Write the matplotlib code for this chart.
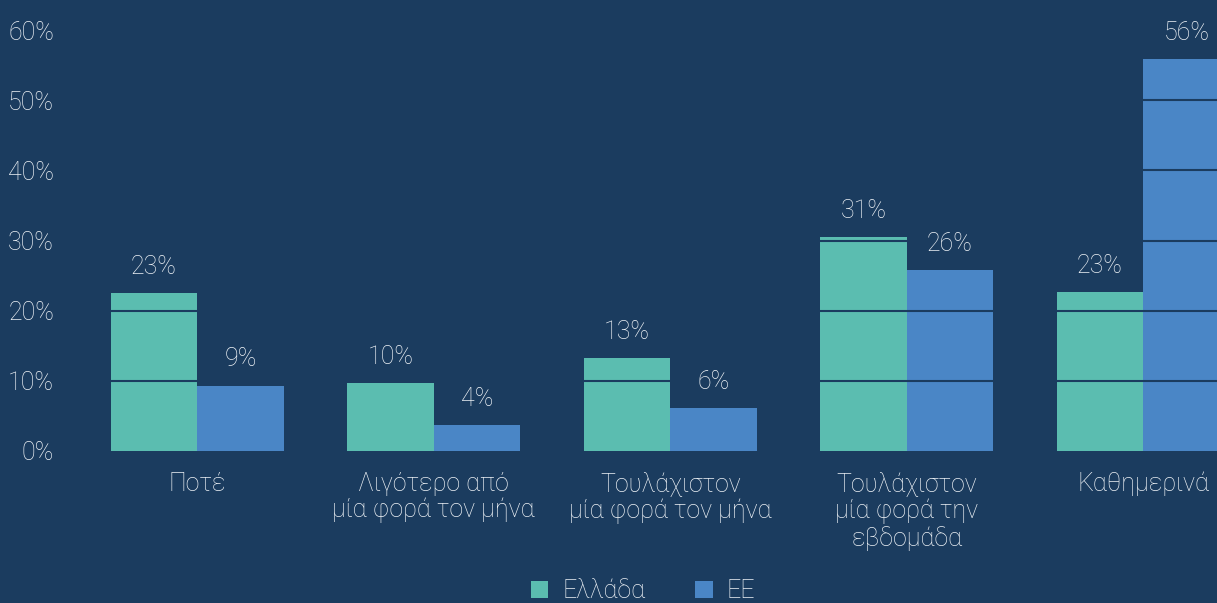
import matplotlib
matplotlib.use("Agg")
import matplotlib.pyplot as plt
import numpy as np

categories = ["Ποτέ", "Λιγότερο από\nμία φορά τον μήνα", "Τουλάχιστον\nμία φορά τον μήνα",
              "Τουλάχιστον\nμία φορά την\nεβδομάδα", "Καθημερινά"]
greece = [22.5, 9.7, 13.2, 30.5, 22.6]
eu = [9.3, 3.7, 6.1, 25.8, 55.8]
greece_labels = ["23%", "10%", "13%", "31%", "23%"]
eu_labels = ["9%", "4%", "6%", "26%", "56%"]
series_names = ["Ελλάδα", "ΕΕ"]
yticks = [0, 10, 20, 30, 40, 50, 60]

BG = "#1b3c5f"
TEAL = "#5bbdb0"
BLUE = "#4a86c6"
TXT = "#eef2f6"
FS = 18
FW = "light"

plt.rcParams['font.family'] = ['Roboto', 'DejaVu Sans']

W, H = 1217, 603
fig = plt.figure(figsize=(W/100, H/100), dpi=100, facecolor=BG)
ax = fig.add_axes([79/W, (H-451)/H, 1-79/W, (451-30)/H])
ax.set_facecolor(BG)

x = np.arange(len(categories))
bw = 0.366
b1 = ax.bar(x - bw/2, greece, bw, color=TEAL, label=series_names[0], zorder=2)
b2 = ax.bar(x + bw/2, eu, bw, color=BLUE, label=series_names[1], zorder=2)

for rects, labs in ((b1, greece_labels), (b2, eu_labels)):
    for r, lab in zip(rects, labs):
        ax.annotate(lab, (r.get_x() + r.get_width()/2, r.get_height()),
                    xytext=(0, 19), textcoords="offset points", ha="center", va="center",
                    color=TXT, fontsize=FS, fontweight=FW, zorder=6)

for v in yticks[1:-1]:
    ax.axhline(v, color=BG, lw=1.5, zorder=3)

ax.set_xlim(-0.5, 4.312)
ax.set_ylim(0, 60)
ax.set_yticks(yticks)
ax.set_yticklabels([f"{v}%" for v in yticks])
ax.set_xticks(x)
ax.set_xticklabels(categories, linespacing=1.1)
ax.tick_params(axis="both", length=0, colors=TXT, labelsize=FS)
ax.tick_params(axis="y", pad=18)
ax.tick_params(axis="x", pad=15)
for lab in ax.get_xticklabels() + ax.get_yticklabels():
    lab.set_fontweight(FW)
for s in ax.spines.values():
    s.set_visible(False)

leg = fig.legend(loc="center", bbox_to_anchor=(643/W, 1 - 591/H), ncol=2, frameon=False,
                 fontsize=FS, handlelength=0.7, handleheight=0.7, columnspacing=2.0,
                 handletextpad=0.55)
for t in leg.get_texts():
    t.set_color(TXT)
    t.set_fontweight(FW)

fig.savefig("out.png", dpi=100, facecolor=BG)
